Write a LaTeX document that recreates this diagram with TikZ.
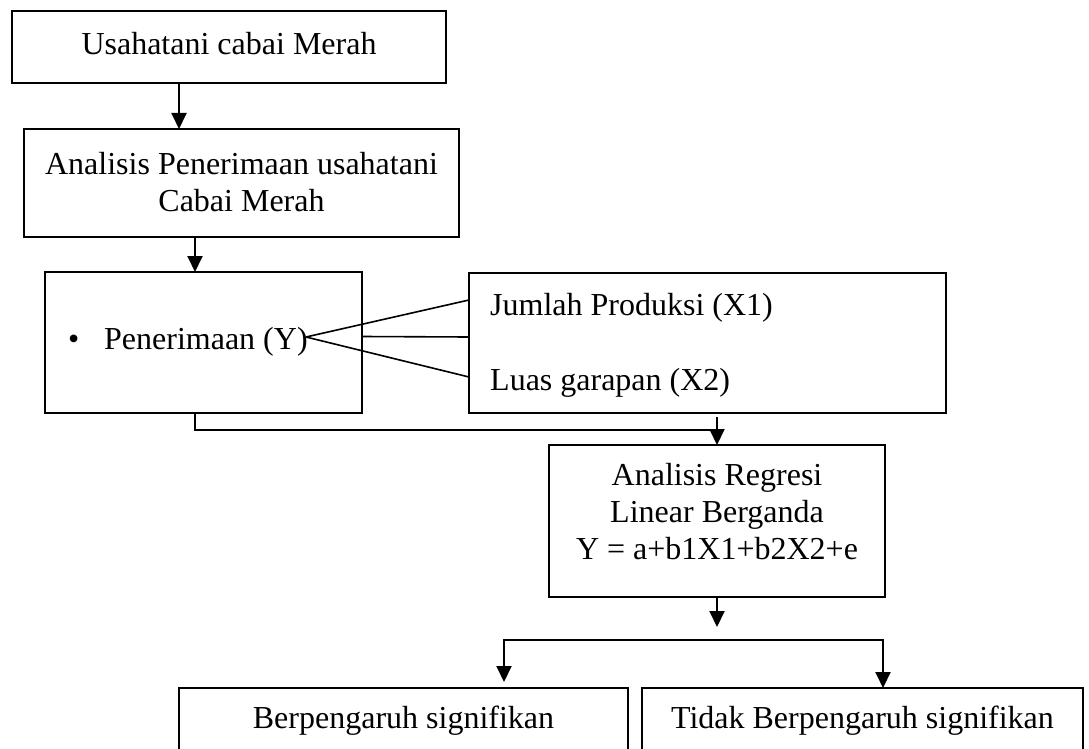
\documentclass[tikz,border=0pt]{standalone}
\usepackage{fontspec}
\setmainfont{Liberation Serif}
\usetikzlibrary{arrows.meta}
\begin{document}
\begin{tikzpicture}[x=1pt,y=-1pt,
  box/.style={draw, line width=1.7pt, inner sep=0pt, outer sep=0pt},
  txt/.style={inner sep=0pt, anchor=base, font=\fontsize{32}{37}\selectfont},
  ltxt/.style={txt, anchor=base west},
  arr/.style={line width=2pt, -{Triangle[width=15pt,length=16pt]}},
  link/.style={line width=2pt},
  thin/.style={line width=1.6pt}]
\useasboundingbox (0,0) rectangle (1089,749);
\clip (0,0) rectangle (1089,749);
\fill[white] (0,0) rectangle (1089,749);

% boxes
\node[box, minimum width=434, minimum height=72] (b1) at (229,47) {};
\node[box, minimum width=435, minimum height=108] (b2) at (241.5,183) {};
\node[box, minimum width=317, minimum height=141] (b3) at (203.5,342.5) {};
\node[box, minimum width=477, minimum height=140] (b4) at (707.5,343) {};
\node[box, minimum width=336, minimum height=152] (b5) at (717,521) {};
\node[box, minimum width=449, minimum height=100] (b6) at (403.5,738) {};
\node[box, minimum width=441, minimum height=100] (b7) at (862.5,738) {};

% texts
\node[txt] (t1) at (229,55) {Usahatani cabai Merah};
\node[txt] (t2a) at (241.5,174) {Analisis Penerimaan usahatani};
\node[txt] (t2b) at (241.5,211) {Cabai Merah};
\node[ltxt] (t3) at (68,349) {\makebox[36pt][l]{•}Penerimaan (Y)};
\node[ltxt] (t4a) at (490,315) {Jumlah Produksi (X1)};
\node[ltxt] (t4b) at (490,390) {Luas garapan (X2)};
\node[txt] (t5a) at (717,485) {Analisis Regresi};
\node[txt] (t5b) at (717,522) {Linear Berganda};
\node[txt] (t5c) at (717,559) {Y = a+b1X1+b2X2+e};
\node[txt] (t6) at (403.5,728) {Berpengaruh signifikan};
\node[txt] (t7) at (862.5,728) {Tidak Berpengaruh signifikan};

% connectors
\coordinate (a1) at ([xshift=-50pt]b1.south);
\draw[arr] (a1) -- (a1 |- b2.north);
\coordinate (a2) at ([xshift=-46.5pt]b2.south);
\draw[arr] (a2) -- (a2 |- b3.north);

\coordinate (apex) at (306,337);
\draw[thin] (apex) -- ([yshift=43pt]b4.west);
\draw[thin] (apex) -- ([yshift=-34pt]b4.west);
\draw[thin] ([yshift=6pt]b3.east) -- ([yshift=6pt]b4.west);

\coordinate (a3) at ([xshift=-8.5pt]b3.south);
\coordinate (a4) at (b5.north |- b4.south);
\draw[link] (a3) |- ([yshift=-17pt]a4);
\draw[arr] ([yshift=-4pt]a4) -- (b5.north);

\draw[arr] (b5.south) -- ([yshift=-30pt]b5.south);
\coordinate (sp) at ([yshift=-43pt]b5.south);
\coordinate (L) at ([xshift=100.5pt,yshift=6pt]b6.north);
\coordinate (R) at ([xshift=20.5pt]b7.north);
\draw[arr] (sp) -| (L);
\draw[arr] (sp) -| (R);
\end{tikzpicture}
\end{document}
